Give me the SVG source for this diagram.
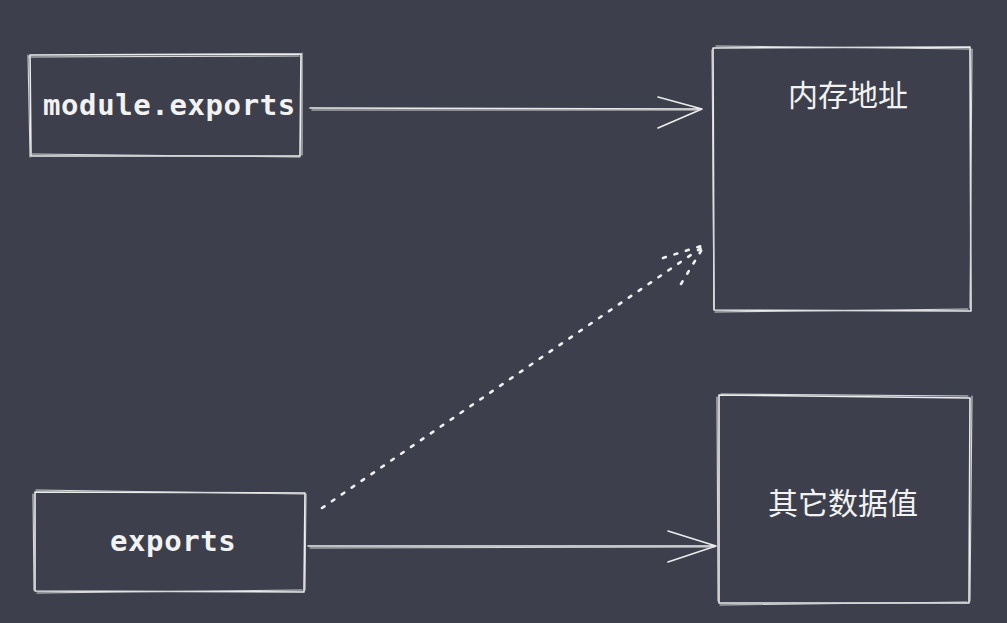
<svg xmlns="http://www.w3.org/2000/svg" width="1007" height="623" viewBox="0 0 1007 623">
<style>
.bg{fill:#3d404c}
.sk{fill:none;stroke:#ececec;stroke-width:1.6;stroke-linecap:round;stroke-linejoin:round}
.sk2{fill:none;stroke:#d8d8d8;stroke-width:1.1;stroke-linecap:round}
.code{font-family:"DejaVu Sans Mono","Liberation Mono",monospace;font-weight:bold;font-size:29px;fill:#f2f2f2;letter-spacing:0.6px}
.cjk{font-family:"Noto Sans CJK SC","Noto Sans",sans-serif;font-size:30px;fill:#f2f2f2}
.dash{fill:none;stroke:#f0f0f0;stroke-width:2.6;stroke-dasharray:3 9;stroke-linecap:round}
</style>
<rect class="bg" x="0" y="0" width="1007" height="623"/>
<g id="node-module-exports">
<path class="sk" d="M30 55 L301 54 L300 156 L31 156 Z"/>
<path class="sk2" d="M29 57 L299 56 M302 53 L302 155 M32 154 L300 157 M28 55 L30 157"/>
<text class="code" x="43" y="115">module.exports</text>
</g>
<g id="node-memory">
<path class="sk" d="M713 48 L970 47 L971 311 L714 310 Z"/>
<path class="sk2" d="M716 46 L969 49 M972 49 L970 308 M715 312 L968 309 M712 50 L714 308"/>
<text class="cjk" x="848" y="106" text-anchor="middle">内存地址</text>
</g>
<g id="node-exports">
<path class="sk" d="M35 492 L305 493 L304 592 L35 591 Z"/>
<path class="sk2" d="M36 490 L304 494 M306 494 L305 590 M37 593 L302 590 M33 494 L34 590"/>
<text class="code" x="110" y="551">exports</text>
</g>
<g id="node-other">
<path class="sk" d="M719 395 L970 398 L969 603 L719 603 Z"/>
<path class="sk2" d="M721 394 L968 396 M972 396 L970 601 M720 605 L967 602 M717 397 L718 601"/>
<text class="cjk" x="843" y="514" text-anchor="middle">其它数据值</text>
</g>
<g id="connectors">
<path class="sk" d="M310 108 L702 109 M658 97 L702 109 L658 128"/>
<path class="sk2" d="M312 110 L700 110"/>
<path class="sk" d="M308 546 L716 546 M668 531 L716 546 L668 562"/>
<path class="sk2" d="M310 548 L714 547"/>
<path class="dash" d="M322 508 L704 246 M663 258 L704 245 M681 284 L704 246"/>
</g>
</svg>
